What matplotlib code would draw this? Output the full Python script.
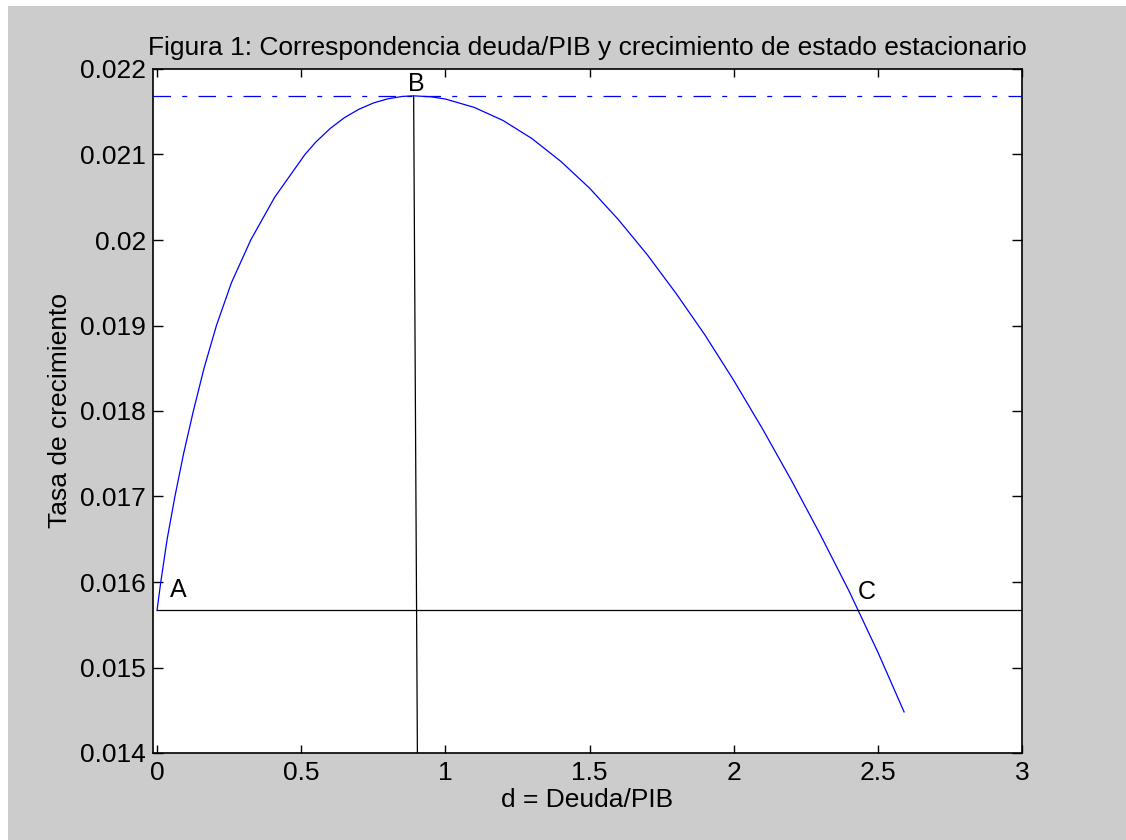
import matplotlib
matplotlib.use("Agg")
import matplotlib.pyplot as plt
from matplotlib.patches import Rectangle

plt.rcParams['font.family'] = ['Liberation Sans', 'DejaVu Sans']

# curve
deuda = [0.0, 0.013, 0.035, 0.062, 0.092, 0.126, 0.163, 0.206, 0.258, 0.325,
         0.408, 0.513, 0.55, 0.60, 0.65, 0.70, 0.75, 0.80, 0.85, 0.89,
         0.95, 1.0, 1.1, 1.2, 1.3, 1.4, 1.5, 1.6, 1.7, 1.8,
         1.9, 2.0, 2.1, 2.2, 2.3, 2.4, 2.5, 2.591]
crec = [0.01567, 0.0160, 0.0165, 0.0170, 0.0175, 0.0180, 0.0185, 0.0190, 0.0195, 0.0200,
        0.0205, 0.0210, 0.021143, 0.021303, 0.021431, 0.021529, 0.021602, 0.021651, 0.021679, 0.021686,
        0.021675, 0.021649, 0.021551, 0.021398, 0.021187, 0.020921, 0.020607, 0.020239, 0.019829, 0.019376,
        0.018891, 0.018359, 0.017791, 0.017190, 0.016557, 0.015895, 0.015180, 0.014481]

g_base = 0.01567      # linea A-C
g_max = 0.021686      # maximo (B)
vert_x = [0.890, 0.903]
vert_y = [0.02168, 0.014]

etiquetas = ['A', 'B', 'C']
etiq_x = [0.045, 0.870, 2.430]
etiq_y = [0.01591, 0.02183, 0.01588]

fig = plt.figure(figsize=(11.26, 8.4), dpi=100)
fig.patch.set_facecolor('white')
fig.patches.append(Rectangle((8 / 1126, 0), 1, 834 / 840, transform=fig.transFigure,
                             facecolor='#cccccc', edgecolor='none', zorder=-10))
ax = fig.add_axes([153 / 1126, 87 / 840, 869 / 1126, 684 / 840])
ax.set_facecolor('white')

ax.plot(deuda, crec, color='#0000ff', lw=0.9)
ax.axhline(g_max, color='#0000ff', lw=0.9, dashes=(14, 9, 4, 9))
ax.plot([0, 3], [g_base, g_base], color='black', lw=0.9)
ax.plot(vert_x, vert_y, color='black', lw=0.9)

for t, x, y in zip(etiquetas, etiq_x, etiq_y):
    ax.text(x, y, t, fontsize=18, ha='left', va='center')

ax.set_xlim(-0.014, 3)
ax.set_ylim(0.014, 0.022)
ax.set_xticks([0, 0.5, 1, 1.5, 2, 2.5, 3])
ax.set_xticklabels(['0', '0.5', '1', '1.5', '2', '2.5', '3'])
ax.set_yticks([0.014, 0.015, 0.016, 0.017, 0.018, 0.019, 0.02, 0.021, 0.022])
ax.set_yticklabels(['0.014', '0.015', '0.016', '0.017', '0.018', '0.019', '0.02', '0.021', '0.022'])
ax.tick_params(axis='both', direction='in', top=True, right=True, width=1,
               labelsize=19, colors='black')
ax.tick_params(axis='x', length=6, pad=6)
ax.tick_params(axis='y', length=7.5, pad=5)
for s in ax.spines.values():
    s.set_linewidth(1.2)

ax.set_title('Figura 1: Correspondencia deuda/PIB y crecimiento de estado estacionario',
             fontsize=19, pad=10)
ax.set_xlabel('d = Deuda/PIB', fontsize=19, labelpad=2)
ax.set_ylabel('Tasa de crecimiento', fontsize=19, labelpad=6)

fig.savefig('out.png', dpi=100, facecolor=fig.get_facecolor())
